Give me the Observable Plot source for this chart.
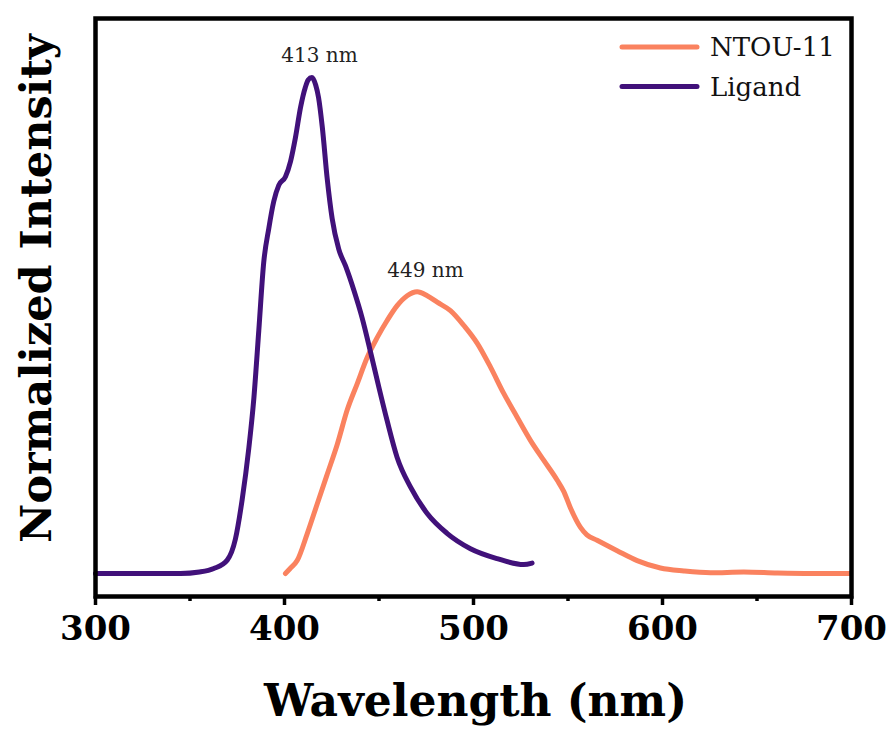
<!DOCTYPE html>
<html>
<head>
<meta charset="utf-8">
<script src="https://cdn.jsdelivr.net/npm/d3@7"></script>
<script src="https://cdn.jsdelivr.net/npm/@observablehq/plot@0.6"></script>
<style>
  html, body { margin: 0; padding: 0; background: #fff; }
  #chart { position: relative; width: 891px; height: 731px; }
</style>
</head>
<body>
<div id="chart"></div>
<script>
// ---- data ----
const seriesNames = ["NTOU-11", "Ligand"];
const seriesColors = ["#FA825F", "#41117A"];

const ligandWavelength = [300, 320, 340, 345, 355, 362.6, 369.7, 374, 377.6, 381.1, 383.8, 386.4, 389, 391.7, 394.3, 397, 400.5, 403.2, 405.8, 408.5, 411, 412.5, 414.5, 416.5, 418, 420, 422.6, 425.2, 428.7, 432.3, 436.7, 441.1, 445.5, 449.9, 454.3, 459.6, 466.7, 475.5, 486, 498.4, 512.5, 526.6, 531];
const ligandIntensity = [0, 0, 0, 0, 0.003, 0.01, 0.027, 0.069, 0.149, 0.252, 0.354, 0.49, 0.627, 0.696, 0.75, 0.783, 0.80, 0.831, 0.879, 0.94, 0.98, 0.995, 1.0, 0.985, 0.96, 0.90, 0.796, 0.716, 0.654, 0.62, 0.571, 0.515, 0.447, 0.376, 0.308, 0.234, 0.174, 0.121, 0.081, 0.05, 0.03, 0.018, 0.021];

const ntouWavelength = [400.5, 403, 406.7, 412, 417.3, 422.6, 427.9, 433.2, 438.5, 443.8, 449.1, 454.3, 459.6, 464.9, 470.2, 475.5, 480.8, 487.8, 494.9, 502, 509, 516, 523.1, 530.2, 537.2, 544.3, 547.8, 551.3, 556.6, 560, 565.4, 576, 586.6, 598.9, 611.3, 625.4, 643, 660.7, 678.3, 699.5];
const ntouIntensity = [0, 0.01, 0.026, 0.08, 0.14, 0.2, 0.26, 0.33, 0.383, 0.436, 0.476, 0.51, 0.54, 0.56, 0.568, 0.56, 0.547, 0.53, 0.5, 0.464, 0.416, 0.363, 0.315, 0.268, 0.228, 0.188, 0.165, 0.132, 0.093, 0.078, 0.067, 0.046, 0.026, 0.011, 0.005, 0.0014, 0.003, 0.001, 0, 0];

const peakLabels = ["413 nm", "449 nm"];
const peakLabelX = [418.5, 474.6];
const peakLabelY = [1.032, 0.597];

const majorTicks = [300, 400, 500, 600, 700];
const minorTicks = [350, 450, 550, 650];
const xLabel = "Wavelength (nm)";
const yLabel = "Normalized Intensity";

// ---- build ----
const ntouData = ntouWavelength.map((w, i) => ({w, v: ntouIntensity[i]}));
const ligandData = ligandWavelength.map((w, i) => ({w, v: ligandIntensity[i]}));

const serif = "'DejaVu Serif', 'Liberation Serif', serif";

const plot = Plot.plot({
  width: 891,
  height: 731,
  marginLeft: 95,
  marginRight: 40,
  marginTop: 18,
  marginBottom: 135,
  style: {fontFamily: serif, background: "white", color: "black"},
  x: {domain: [300, 700]},
  y: {domain: [-0.0464, 1.119], axis: null},
  marks: [
    Plot.line(ntouData, {x: "w", y: "v", stroke: seriesColors[0], strokeWidth: 5, curve: "monotone-x", strokeLinecap: "round", strokeLinejoin: "round"}),
    Plot.line(ligandData, {x: "w", y: "v", stroke: seriesColors[1], strokeWidth: 5, curve: "monotone-x", strokeLinecap: "round", strokeLinejoin: "round"}),
    Plot.text(peakLabels, {
      x: (d, i) => peakLabelX[i],
      y: (d, i) => peakLabelY[i],
      text: d => d,
      fontSize: 20,
      fontFamily: serif,
      lineAnchor: "bottom",
      fill: "#222"
    }),
    Plot.frame({stroke: "black", strokeWidth: 4.5}),
    Plot.axisX({ticks: minorTicks, tickSize: 5, tickFormat: () => "", strokeWidth: 3.5, label: null}),
    Plot.axisX({ticks: majorTicks, tickSize: 9, tickPadding: 10, tickFormat: d => String(d), strokeWidth: 3.5,
      fontSize: 34, fontWeight: "bold", fontFamily: serif, fill: "black", label: null}),
    Plot.text([xLabel], {frameAnchor: "bottom", lineAnchor: "bottom", textAnchor: "middle", dy: 119, dx: 2, text: d => d,
      fontSize: 44, fontWeight: "bold", fontFamily: serif, fill: "black"}),
    Plot.text([yLabel], {frameAnchor: "left", lineAnchor: "bottom", textAnchor: "middle", rotate: -90, dx: -45, dy: -19, text: d => d,
      fontSize: 43, fontWeight: "bold", fontFamily: serif, fill: "black"})
  ]
});

// legend inside the plot (top right)
const svg = d3.select(plot);
const lg = svg.append("g").attr("font-family", serif).attr("font-size", 26).attr("text-anchor", "start");
const legendX0 = 622, legendX1 = 697, legendTop = 47, legendStep = 39.5;
seriesNames.forEach((name, i) => {
  const y = legendTop + i * legendStep;
  lg.append("line").attr("x1", legendX0).attr("x2", legendX1).attr("y1", y).attr("y2", y)
    .attr("stroke", seriesColors[i]).attr("stroke-width", 5).attr("stroke-linecap", "round");
  lg.append("text").attr("x", legendX1 + 13).attr("y", y).attr("dy", "0.36em")
    .attr("text-anchor", "start").attr("fill", "#111").text(name);
});

document.getElementById("chart").appendChild(plot);
</script>
</body>
</html>
